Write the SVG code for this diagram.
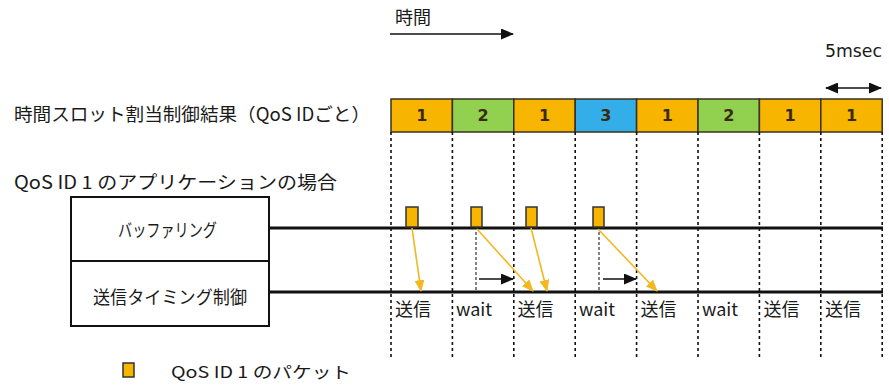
<svg xmlns="http://www.w3.org/2000/svg" width="889" height="387" viewBox="0 0 889 387">
<style>
.t{font-family:"Noto Sans CJK JP","DejaVu Sans",sans-serif;fill:#1a1a1a}
.lbl{font-size:18px}
.sm{font-size:16px}
.md{font-size:18px}
.num{font-family:"DejaVu Sans",sans-serif;font-size:16px;font-weight:bold;fill:#3a2a10;text-anchor:middle}
.slot{stroke:#3a3020;stroke-width:1.5}
.y{fill:#F7B500}.g{fill:#92D050}.b{fill:#33AEE8}
.dash{stroke:#111;stroke-width:1.6;stroke-dasharray:3 3;fill:none}
.box{fill:#fff;stroke:#111;stroke-width:2}
.hl{stroke:#111;stroke-width:3}
.pk{fill:#F7B500;stroke:#333;stroke-width:1.5}
.ya{stroke:#F2B820;stroke-width:1.6;fill:none;marker-end:url(#ah-y)}
.ba{stroke:#111;stroke-width:1.6;fill:none;marker-end:url(#ah-k)}
.gd{stroke:#333;stroke-width:1.2;stroke-dasharray:3 2;fill:none}
</style>
<defs>
<marker id="ah-y" markerUnits="userSpaceOnUse" markerWidth="12" markerHeight="10" refX="11" refY="5" orient="auto"><path d="M0,0 L12,5 L0,10 z" fill="#F2B820"/></marker>
<marker id="ah-k" markerUnits="userSpaceOnUse" markerWidth="13" markerHeight="11" refX="12" refY="5.5" orient="auto"><path d="M0,0 L13,5.5 L0,11 z" fill="#111"/></marker>
<marker id="ah-ks" markerUnits="userSpaceOnUse" markerWidth="13" markerHeight="11" refX="1" refY="5.5" orient="auto"><path d="M13,0 L0,5.5 L13,11 z" fill="#111"/></marker>
</defs>
<rect width="889" height="387" fill="#fff"/>

<g id="time-label">
<text class="t lbl" x="395" y="24">時間</text>
</g>
<g id="msec-label">
<text class="t" x="825" y="57" style="font-family:'DejaVu Sans',sans-serif;font-size:17px" textLength="57" lengthAdjust="spacingAndGlyphs">5msec</text>
</g>
<g id="row-labels">
<text class="t lbl" x="14" y="121" textLength="356" lengthAdjust="spacingAndGlyphs">時間スロット割当制御結果（QoS IDごと）</text>
<text class="t lbl" x="14" y="189" textLength="323" lengthAdjust="spacingAndGlyphs">QoS ID 1 のアプリケーションの場合</text>
</g>

<g id="slot-bar">
<rect class="slot y" x="391" y="99" width="61.4" height="33"/>
<rect class="slot g" x="452.4" y="99" width="61.4" height="33"/>
<rect class="slot y" x="513.8" y="99" width="61.4" height="33"/>
<rect class="slot b" x="575.2" y="99" width="61.4" height="33"/>
<rect class="slot y" x="636.6" y="99" width="61.4" height="33"/>
<rect class="slot g" x="698" y="99" width="61.4" height="33"/>
<rect class="slot y" x="759.4" y="99" width="61.4" height="33"/>
<rect class="slot y" x="820.8" y="99" width="61.4" height="33"/>
<text class="num" x="421.7" y="121">1</text>
<text class="num" x="483.1" y="121">2</text>
<text class="num" x="544.5" y="121">1</text>
<text class="num" x="605.9" y="121">3</text>
<text class="num" x="667.3" y="121">1</text>
<text class="num" x="728.7" y="121">2</text>
<text class="num" x="790.1" y="121">1</text>
<text class="num" x="851.5" y="121">1</text>
</g>

<g id="slot-gridlines">
<line class="dash" x1="391" y1="132" x2="391" y2="358"/>
<line class="dash" x1="452.4" y1="132" x2="452.4" y2="358"/>
<line class="dash" x1="513.8" y1="132" x2="513.8" y2="358"/>
<line class="dash" x1="575.2" y1="132" x2="575.2" y2="358"/>
<line class="dash" x1="636.6" y1="132" x2="636.6" y2="358"/>
<line class="dash" x1="698" y1="132" x2="698" y2="358"/>
<line class="dash" x1="759.4" y1="132" x2="759.4" y2="358"/>
<line class="dash" x1="820.8" y1="132" x2="820.8" y2="358"/>
<line class="dash" x1="882.2" y1="132" x2="882.2" y2="358"/>
</g>

<g id="buffering">
<rect class="box" x="71" y="197" width="198" height="64"/>
<text class="t md" x="118" y="237" textLength="99" lengthAdjust="spacingAndGlyphs">バッファリング</text>
</g>
<g id="timing-control">
<rect class="box" x="71" y="261" width="198" height="65"/>
<text class="t md" x="93" y="304" textLength="154" lengthAdjust="spacingAndGlyphs">送信タイミング制御</text>
</g>

<g id="timelines">
<line class="hl" x1="269" y1="228" x2="883" y2="228"/>
<line class="hl" x1="269" y1="292" x2="883" y2="292"/>
</g>

<g id="packets">
<rect class="pk" x="406" y="207" width="12" height="20"/>
<rect class="pk" x="471" y="207" width="11" height="20"/>
<rect class="pk" x="526" y="207" width="11" height="20"/>
<rect class="pk" x="593" y="207" width="11" height="20"/>
</g>

<g id="slot-labels">
<text class="t md" x="395" y="316">送信</text>
<text class="t md" x="456" y="316">wait</text>
<text class="t md" x="517.5" y="316">送信</text>
<text class="t md" x="579" y="316">wait</text>
<text class="t md" x="640.5" y="316">送信</text>
<text class="t md" x="702" y="316">wait</text>
<text class="t md" x="763.5" y="316">送信</text>
<text class="t md" x="825" y="316">送信</text>
</g>

<g id="connectors">
<line class="ba" x1="390" y1="34" x2="513" y2="34"/>
<line x1="826" y1="88" x2="881" y2="88" stroke="#111" stroke-width="1.6" marker-start="url(#ah-ks)" marker-end="url(#ah-k)"/>
<line class="ya" x1="412" y1="228" x2="421" y2="291"/>
<line class="ya" x1="477" y1="229" x2="533" y2="291"/>
<line class="ya" x1="531" y1="228" x2="547" y2="291"/>
<line class="ya" x1="598" y1="229" x2="657" y2="291"/>
<line class="gd" x1="476" y1="232" x2="476" y2="291"/>
<line class="gd" x1="599" y1="232" x2="599" y2="291"/>
<line class="ba" x1="479" y1="279" x2="513" y2="279"/>
<line class="ba" x1="603" y1="279" x2="636" y2="279"/>
</g>

<g id="legend">
<rect class="pk" x="123" y="363" width="11" height="14"/>
<text class="t sm" x="171" y="378" textLength="180" lengthAdjust="spacingAndGlyphs">QoS ID 1 のパケット</text>
</g>
</svg>
